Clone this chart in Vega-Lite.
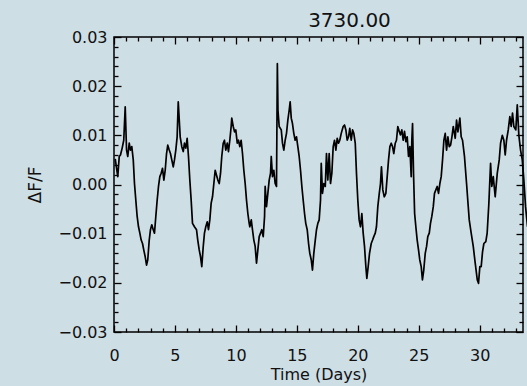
{
  "$schema": "https://vega.github.io/schema/vega-lite/v6.json",
  "width": 409,
  "height": 295,
  "autosize": {"type": "none"},
  "padding": {"left": 114, "top": 37, "right": 4, "bottom": 54},
  "background": "#cedee5",
  "title": {
    "text": "3730.00",
    "font": "DejaVu Sans",
    "fontSize": 20,
    "fontWeight": "normal",
    "color": "#111111",
    "anchor": "middle",
    "dx": 31,
    "offset": -2
  },
  "config": {
    "view": {"stroke": "#000000", "strokeWidth": 1.5},
    "axis": {
      "domain": false,
      "grid": false,
      "tickColor": "#000000",
      "tickWidth": 1.3,
      "tickSize": 0,
      "labelFont": "DejaVu Sans",
      "labelFontSize": 16,
      "labelColor": "#111111",
      "labelOverlap": false,
      "labelFlush": false,
      "titleFont": "DejaVu Sans",
      "titleFontSize": 16,
      "titleFontWeight": "normal",
      "titleColor": "#111111"
    }
  },
  "data": {
    "values": [
      {"time": 0.10, "dff": 0.0052}, {"time": 0.31, "dff": 0.0016}, {"time": 0.43, "dff": 0.0057}, {"time": 0.53, "dff": 0.0060},
      {"time": 0.67, "dff": 0.0074}, {"time": 0.80, "dff": 0.0090}, {"time": 0.92, "dff": 0.0158}, {"time": 1.03, "dff": 0.0070},
      {"time": 1.13, "dff": 0.0057}, {"time": 1.25, "dff": 0.0084}, {"time": 1.35, "dff": 0.0070}, {"time": 1.46, "dff": 0.0077},
      {"time": 1.58, "dff": 0.0050}, {"time": 1.68, "dff": 0.0002}, {"time": 1.79, "dff": -0.0032}, {"time": 1.90, "dff": -0.0065},
      {"time": 2.01, "dff": -0.0086}, {"time": 2.12, "dff": -0.0099}, {"time": 2.23, "dff": -0.0113}, {"time": 2.34, "dff": -0.0120},
      {"time": 2.44, "dff": -0.0133}, {"time": 2.56, "dff": -0.0147}, {"time": 2.67, "dff": -0.0164}, {"time": 2.77, "dff": -0.0153},
      {"time": 2.89, "dff": -0.0113}, {"time": 2.99, "dff": -0.0092}, {"time": 3.10, "dff": -0.0082}, {"time": 3.22, "dff": -0.0092},
      {"time": 3.32, "dff": -0.0099}, {"time": 3.43, "dff": -0.0065}, {"time": 3.54, "dff": -0.0032}, {"time": 3.65, "dff": -0.0004},
      {"time": 3.76, "dff": 0.0016}, {"time": 3.87, "dff": 0.0023}, {"time": 3.98, "dff": 0.0033}, {"time": 4.09, "dff": 0.0009},
      {"time": 4.20, "dff": 0.0029}, {"time": 4.31, "dff": 0.0063}, {"time": 4.41, "dff": 0.0080}, {"time": 4.53, "dff": 0.0070},
      {"time": 4.63, "dff": 0.0063}, {"time": 4.74, "dff": 0.0050}, {"time": 4.86, "dff": 0.0036}, {"time": 4.96, "dff": 0.0050},
      {"time": 5.07, "dff": 0.0070}, {"time": 5.18, "dff": 0.0097}, {"time": 5.27, "dff": 0.0168}, {"time": 5.43, "dff": 0.0097},
      {"time": 5.56, "dff": 0.0077}, {"time": 5.68, "dff": 0.0067}, {"time": 5.78, "dff": 0.0084}, {"time": 5.89, "dff": 0.0074},
      {"time": 6.00, "dff": 0.0094}, {"time": 6.11, "dff": 0.0057}, {"time": 6.22, "dff": 0.0009}, {"time": 6.33, "dff": -0.0032},
      {"time": 6.44, "dff": -0.0079}, {"time": 6.60, "dff": -0.0086}, {"time": 6.77, "dff": -0.0092}, {"time": 6.87, "dff": -0.0113},
      {"time": 6.99, "dff": -0.0133}, {"time": 7.10, "dff": -0.0147}, {"time": 7.20, "dff": -0.0167}, {"time": 7.32, "dff": -0.0126},
      {"time": 7.42, "dff": -0.0099}, {"time": 7.53, "dff": -0.0086}, {"time": 7.65, "dff": -0.0076}, {"time": 7.75, "dff": -0.0092},
      {"time": 7.86, "dff": -0.0072}, {"time": 7.97, "dff": -0.0038}, {"time": 8.08, "dff": -0.0025}, {"time": 8.19, "dff": 0.0002},
      {"time": 8.30, "dff": 0.0029}, {"time": 8.41, "dff": 0.0019}, {"time": 8.52, "dff": 0.0009}, {"time": 8.63, "dff": 0.0002},
      {"time": 8.74, "dff": 0.0023}, {"time": 8.84, "dff": 0.0057}, {"time": 8.96, "dff": 0.0084}, {"time": 9.06, "dff": 0.0090},
      {"time": 9.17, "dff": 0.0070}, {"time": 9.29, "dff": 0.0084}, {"time": 9.39, "dff": 0.0067}, {"time": 9.50, "dff": 0.0090},
      {"time": 9.61, "dff": 0.0118}, {"time": 9.66, "dff": 0.0135}, {"time": 9.78, "dff": 0.0118}, {"time": 9.89, "dff": 0.0107},
      {"time": 9.99, "dff": 0.0111}, {"time": 10.11, "dff": 0.0084}, {"time": 10.21, "dff": 0.0090}, {"time": 10.32, "dff": 0.0077},
      {"time": 10.43, "dff": 0.0090}, {"time": 10.54, "dff": 0.0063}, {"time": 10.65, "dff": 0.0029}, {"time": 10.76, "dff": 0.0002},
      {"time": 10.87, "dff": -0.0032}, {"time": 10.98, "dff": -0.0059}, {"time": 11.09, "dff": -0.0079}, {"time": 11.14, "dff": -0.0086},
      {"time": 11.26, "dff": -0.0072}, {"time": 11.36, "dff": -0.0092}, {"time": 11.47, "dff": -0.0113}, {"time": 11.58, "dff": -0.0126},
      {"time": 11.69, "dff": -0.0160}, {"time": 11.80, "dff": -0.0133}, {"time": 11.91, "dff": -0.0106}, {"time": 12.02, "dff": -0.0099},
      {"time": 12.12, "dff": -0.0092}, {"time": 12.24, "dff": -0.0106}, {"time": 12.35, "dff": -0.0065}, {"time": 12.40, "dff": -0.0004},
      {"time": 12.51, "dff": -0.0045}, {"time": 12.62, "dff": -0.0018}, {"time": 12.73, "dff": 0.0009}, {"time": 12.84, "dff": 0.0023},
      {"time": 12.90, "dff": 0.0057}, {"time": 13.00, "dff": 0.0016}, {"time": 13.11, "dff": 0.0029}, {"time": 13.22, "dff": 0.0002},
      {"time": 13.33, "dff": -0.0004}, {"time": 13.40, "dff": 0.0246}, {"time": 13.45, "dff": 0.0151}, {"time": 13.55, "dff": 0.0118},
      {"time": 13.72, "dff": 0.0111}, {"time": 13.82, "dff": 0.0084}, {"time": 13.93, "dff": 0.0070}, {"time": 14.04, "dff": 0.0090},
      {"time": 14.15, "dff": 0.0104}, {"time": 14.26, "dff": 0.0131}, {"time": 14.37, "dff": 0.0151}, {"time": 14.45, "dff": 0.0168},
      {"time": 14.54, "dff": 0.0135}, {"time": 14.64, "dff": 0.0124}, {"time": 14.75, "dff": 0.0104}, {"time": 14.86, "dff": 0.0090},
      {"time": 14.97, "dff": 0.0097}, {"time": 15.08, "dff": 0.0077}, {"time": 15.19, "dff": 0.0057}, {"time": 15.30, "dff": 0.0029},
      {"time": 15.41, "dff": -0.0004}, {"time": 15.52, "dff": -0.0032}, {"time": 15.63, "dff": -0.0059}, {"time": 15.73, "dff": -0.0079},
      {"time": 15.85, "dff": -0.0092}, {"time": 15.96, "dff": -0.0120}, {"time": 16.06, "dff": -0.0140}, {"time": 16.18, "dff": -0.0153},
      {"time": 16.28, "dff": -0.0174}, {"time": 16.39, "dff": -0.0140}, {"time": 16.51, "dff": -0.0113}, {"time": 16.61, "dff": -0.0092},
      {"time": 16.72, "dff": -0.0079}, {"time": 16.83, "dff": -0.0072}, {"time": 16.94, "dff": -0.0032}, {"time": 17.00, "dff": 0.0043},
      {"time": 17.10, "dff": -0.0018}, {"time": 17.21, "dff": 0.0002}, {"time": 17.33, "dff": -0.0004}, {"time": 17.43, "dff": 0.0063},
      {"time": 17.54, "dff": 0.0009}, {"time": 17.65, "dff": 0.0063}, {"time": 17.76, "dff": 0.0002}, {"time": 17.87, "dff": 0.0023},
      {"time": 17.98, "dff": 0.0077}, {"time": 18.09, "dff": 0.0090}, {"time": 18.20, "dff": 0.0070}, {"time": 18.31, "dff": 0.0094},
      {"time": 18.42, "dff": 0.0084}, {"time": 18.52, "dff": 0.0090}, {"time": 18.64, "dff": 0.0104}, {"time": 18.80, "dff": 0.0118},
      {"time": 18.91, "dff": 0.0121}, {"time": 19.02, "dff": 0.0111}, {"time": 19.13, "dff": 0.0090}, {"time": 19.24, "dff": 0.0097},
      {"time": 19.34, "dff": 0.0114}, {"time": 19.46, "dff": 0.0090}, {"time": 19.57, "dff": 0.0111}, {"time": 19.67, "dff": 0.0104},
      {"time": 19.79, "dff": 0.0084}, {"time": 19.89, "dff": 0.0023}, {"time": 20.00, "dff": -0.0032}, {"time": 20.11, "dff": -0.0072},
      {"time": 20.22, "dff": -0.0086}, {"time": 20.33, "dff": -0.0059}, {"time": 20.44, "dff": -0.0099}, {"time": 20.55, "dff": -0.0126},
      {"time": 20.66, "dff": -0.0167}, {"time": 20.74, "dff": -0.0191}, {"time": 20.85, "dff": -0.0167}, {"time": 20.96, "dff": -0.0140},
      {"time": 21.10, "dff": -0.0120}, {"time": 21.21, "dff": -0.0113}, {"time": 21.31, "dff": -0.0106}, {"time": 21.43, "dff": -0.0099},
      {"time": 21.53, "dff": -0.0086}, {"time": 21.64, "dff": -0.0045}, {"time": 21.76, "dff": -0.0018}, {"time": 21.86, "dff": 0.0002},
      {"time": 21.94, "dff": 0.0036}, {"time": 22.05, "dff": -0.0011}, {"time": 22.17, "dff": -0.0025}, {"time": 22.30, "dff": -0.0018},
      {"time": 22.41, "dff": 0.0016}, {"time": 22.52, "dff": 0.0050}, {"time": 22.63, "dff": 0.0077}, {"time": 22.74, "dff": 0.0084},
      {"time": 22.85, "dff": 0.0077}, {"time": 22.95, "dff": 0.0063}, {"time": 23.07, "dff": 0.0084}, {"time": 23.17, "dff": 0.0090},
      {"time": 23.28, "dff": 0.0118}, {"time": 23.40, "dff": 0.0108}, {"time": 23.50, "dff": 0.0101}, {"time": 23.61, "dff": 0.0111},
      {"time": 23.72, "dff": 0.0090}, {"time": 23.83, "dff": 0.0108}, {"time": 23.94, "dff": 0.0087}, {"time": 24.05, "dff": 0.0097},
      {"time": 24.16, "dff": 0.0057}, {"time": 24.27, "dff": 0.0077}, {"time": 24.38, "dff": 0.0016}, {"time": 24.43, "dff": 0.0090},
      {"time": 24.49, "dff": 0.0124}, {"time": 24.57, "dff": 0.0023}, {"time": 24.66, "dff": -0.0059}, {"time": 24.76, "dff": -0.0086},
      {"time": 24.87, "dff": -0.0113}, {"time": 24.98, "dff": -0.0133}, {"time": 25.08, "dff": -0.0153}, {"time": 25.20, "dff": -0.0167},
      {"time": 25.30, "dff": -0.0194}, {"time": 25.41, "dff": -0.0174}, {"time": 25.53, "dff": -0.0140}, {"time": 25.64, "dff": -0.0126},
      {"time": 25.74, "dff": -0.0106}, {"time": 25.86, "dff": -0.0099}, {"time": 25.96, "dff": -0.0079}, {"time": 26.07, "dff": -0.0065},
      {"time": 26.19, "dff": -0.0045}, {"time": 26.29, "dff": -0.0018}, {"time": 26.40, "dff": -0.0011}, {"time": 26.51, "dff": -0.0004},
      {"time": 26.62, "dff": -0.0018}, {"time": 26.73, "dff": 0.0002}, {"time": 26.84, "dff": 0.0016}, {"time": 26.95, "dff": 0.0050},
      {"time": 27.06, "dff": 0.0090}, {"time": 27.17, "dff": 0.0104}, {"time": 27.28, "dff": 0.0070}, {"time": 27.39, "dff": 0.0097},
      {"time": 27.50, "dff": 0.0077}, {"time": 27.61, "dff": 0.0080}, {"time": 27.72, "dff": 0.0097}, {"time": 27.83, "dff": 0.0118},
      {"time": 27.99, "dff": 0.0094}, {"time": 28.10, "dff": 0.0131}, {"time": 28.21, "dff": 0.0107}, {"time": 28.37, "dff": 0.0135},
      {"time": 28.48, "dff": 0.0097}, {"time": 28.59, "dff": 0.0090}, {"time": 28.75, "dff": 0.0057}, {"time": 28.92, "dff": 0.0002},
      {"time": 29.02, "dff": -0.0032}, {"time": 29.14, "dff": -0.0072}, {"time": 29.30, "dff": -0.0099}, {"time": 29.47, "dff": -0.0126},
      {"time": 29.63, "dff": -0.0160}, {"time": 29.80, "dff": -0.0194}, {"time": 29.90, "dff": -0.0201}, {"time": 30.01, "dff": -0.0167},
      {"time": 30.12, "dff": -0.0167}, {"time": 30.23, "dff": -0.0137}, {"time": 30.34, "dff": -0.0120}, {"time": 30.50, "dff": -0.0116},
      {"time": 30.61, "dff": -0.0099}, {"time": 30.75, "dff": -0.0038}, {"time": 30.89, "dff": 0.0043}, {"time": 30.99, "dff": -0.0004},
      {"time": 31.11, "dff": 0.0016}, {"time": 31.27, "dff": -0.0025}, {"time": 31.44, "dff": 0.0023}, {"time": 31.60, "dff": 0.0050},
      {"time": 31.71, "dff": 0.0084}, {"time": 31.85, "dff": 0.0100}, {"time": 31.98, "dff": 0.0090}, {"time": 32.09, "dff": 0.0060},
      {"time": 32.20, "dff": 0.0090}, {"time": 32.34, "dff": 0.0111}, {"time": 32.47, "dff": 0.0138}, {"time": 32.58, "dff": 0.0118},
      {"time": 32.69, "dff": 0.0145}, {"time": 32.80, "dff": 0.0118}, {"time": 32.96, "dff": 0.0111}, {"time": 33.08, "dff": 0.0162},
      {"time": 33.21, "dff": 0.0100}, {"time": 33.35, "dff": 0.0070}, {"time": 33.49, "dff": 0.0050}, {"time": 33.62, "dff": 0.0009},
      {"time": 33.76, "dff": -0.0045}, {"time": 33.92, "dff": -0.0086}
    ]
  },
  "layer": [
    {
      "mark": {"type": "line", "color": "#000000", "strokeWidth": 1.7, "strokeJoin": "round"},
      "encoding": {
        "x": {
          "field": "time",
          "type": "quantitative",
          "scale": {"domain": [0, 33.55], "nice": false, "zero": false},
          "axis": {
            "orient": "bottom",
            "title": "Time (Days)",
            "titlePadding": 3,
            "labelPadding": 15,
            "values": [0, 1, 2, 3, 4, 5, 6, 7, 8, 9, 10, 11, 12, 13, 14, 15, 16, 17, 18, 19, 20, 21, 22, 23, 24, 25, 26, 27, 28, 29, 30, 31, 32, 33],
            "labelExpr": "datum.value % 5 === 0 ? format(datum.value, 'd') : ''",
            "encoding": {"ticks": {"y2": {"value": {"expr": "datum.value % 5 === 0 ? -7 : -4"}}}}
          }
        },
        "y": {
          "field": "dff",
          "type": "quantitative",
          "scale": {"domain": [-0.03, 0.03], "nice": false, "zero": false},
          "axis": {
            "orient": "left",
            "title": "ΔF/F",
            "titleFontSize": 17,
            "titlePadding": 13,
            "labelPadding": 7,
            "values": [-0.03, -0.028, -0.026, -0.024, -0.022, -0.02, -0.018, -0.016, -0.014, -0.012, -0.01, -0.008, -0.006, -0.004, -0.002, 0, 0.002, 0.004, 0.006, 0.008, 0.01, 0.012, 0.014, 0.016, 0.018, 0.02, 0.022, 0.024, 0.026, 0.028, 0.03],
            "labelExpr": "abs(round(datum.value * 500)) % 5 === 0 ? format(datum.value, '.2f') : ''",
            "encoding": {"ticks": {"x2": {"value": {"expr": "abs(round(datum.value * 500)) % 5 === 0 ? 7 : 4"}}}}
          }
        }
      }
    },
    {
      "mark": {"type": "line", "opacity": 0},
      "encoding": {
        "x": {
          "field": "time",
          "type": "quantitative",
          "axis": {
            "orient": "top",
            "title": null,
            "labels": false,
            "values": [0, 1, 2, 3, 4, 5, 6, 7, 8, 9, 10, 11, 12, 13, 14, 15, 16, 17, 18, 19, 20, 21, 22, 23, 24, 25, 26, 27, 28, 29, 30, 31, 32, 33],
            "encoding": {"ticks": {"y2": {"value": {"expr": "datum.value % 5 === 0 ? 7 : 4"}}}}
          }
        },
        "y": {
          "field": "dff",
          "type": "quantitative",
          "axis": {
            "orient": "right",
            "title": null,
            "labels": false,
            "values": [-0.03, -0.028, -0.026, -0.024, -0.022, -0.02, -0.018, -0.016, -0.014, -0.012, -0.01, -0.008, -0.006, -0.004, -0.002, 0, 0.002, 0.004, 0.006, 0.008, 0.01, 0.012, 0.014, 0.016, 0.018, 0.02, 0.022, 0.024, 0.026, 0.028, 0.03],
            "encoding": {"ticks": {"x2": {"value": {"expr": "abs(round(datum.value * 500)) % 5 === 0 ? -7 : -4"}}}}
          }
        }
      }
    }
  ],
  "resolve": {"axis": {"x": "independent", "y": "independent"}}
}
